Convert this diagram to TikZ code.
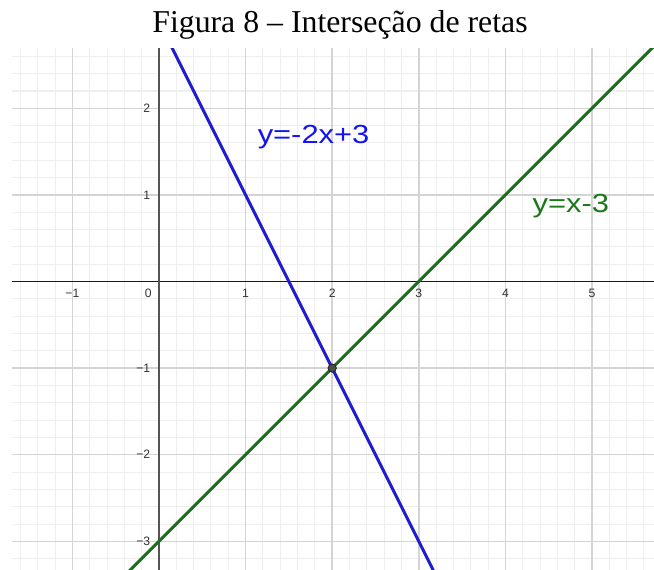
\documentclass[tikz,border=0pt]{standalone}
\usepackage{fontspec}
\setmainfont{Liberation Serif}
\newfontfamily\lblfont{Liberation Sans}
\definecolor{minorgrid}{HTML}{EEEEEE}
\definecolor{majorgrid}{HTML}{D4D4D4}
\definecolor{lineblue}{HTML}{1E1ECC}
\definecolor{txtblue}{HTML}{1212F2}
\definecolor{linegreen}{HTML}{1F6B1F}
\definecolor{txtgreen}{HTML}{1A7A1A}
\definecolor{ticklbl}{HTML}{333333}
\definecolor{yaxis}{HTML}{555555}
\definecolor{xaxis}{HTML}{1A1A1A}
\begin{document}
\begin{tikzpicture}[x=1cm,y=1cm,
  ticklabel/.style={font=\lblfont\fontsize{4}{5}\selectfont, text=ticklbl, inner sep=0pt},
  xtick/.style={ticklabel, anchor=base},
  ytick/.style={ticklabel, anchor=base east},
  eqlabel/.style={font=\lblfont\fontsize{8.6}{10}\selectfont, inner sep=0pt, anchor=base west, xscale=1.18},
  graphline/.style={line width=1pt},
  titlestyle/.style={font=\fontsize{10.45}{12}\selectfont, inner sep=0pt, anchor=base}]
\useasboundingbox (-1.836,-3.320) rectangle (5.716,3.251);
\fill[white] (-1.836,-3.320) rectangle (5.716,3.251);
\node[titlestyle] (title) at (2.09,2.87) {Figura 8 – Interseção de retas};
\begin{scope}
  \clip (-1.697,-3.32) rectangle (5.716,2.69);
  \draw[minorgrid, line width=0.33pt, step=0.2] (-2,-3.6) grid (6,3);
  \draw[majorgrid, line width=0.5pt, step=1] (-2,-4) grid (6,3);
  \coordinate (xl) at (-1.8,0);
  \coordinate (xr) at (5.8,0);
  \coordinate (yb) at (0,-3.4);
  \coordinate (yt) at (0,2.8);
  \draw[xaxis, line width=0.55pt] (xl) -- (xr);
  \draw[yaxis, line width=0.55pt] (yb) -- (yt);
  \coordinate (b1) at (0.1,2.8);
  \coordinate (b2) at (3.2,-3.4);
  \coordinate (g1) at (-0.4,-3.4);
  \coordinate (g2) at (5.8,2.8);
  \draw[lineblue, graphline] (b1) -- (b2);
  \draw[linegreen, graphline] (g1) -- (g2);
  \node[circle, fill=black!70, draw=black!85, line width=0.3pt, minimum size=0.095cm, inner sep=0pt] (P) at (2,-1) {};
\end{scope}
% x tick labels
\node[xtick] (xm1) at (-1,-0.179) {−1};
\node[xtick] (x0) at (-0.125,-0.179) {0};
\node[xtick] (x1) at (1,-0.179) {1};
\node[xtick] (x2) at (2,-0.179) {2};
\node[xtick] (x3) at (3,-0.179) {3};
\node[xtick] (x4) at (4,-0.179) {4};
\node[xtick] (x5) at (5,-0.179) {5};
% y tick labels
\node[ytick] (y2) at (-0.095,1.952) {2};
\node[ytick] (y1) at (-0.095,0.952) {1};
\node[ytick] (ym1) at (-0.095,-1.048) {−1};
\node[ytick] (ym2) at (-0.095,-2.048) {−2};
\node[ytick] (ym3) at (-0.095,-3.048) {−3};
% equation labels
\node[eqlabel, text=txtblue] (eqb) at (1.132,1.594) {y=-2x+3};
\node[eqlabel, text=txtgreen] (eqg) at (4.307,0.794) {y=x-3};
\end{tikzpicture}
\end{document}
